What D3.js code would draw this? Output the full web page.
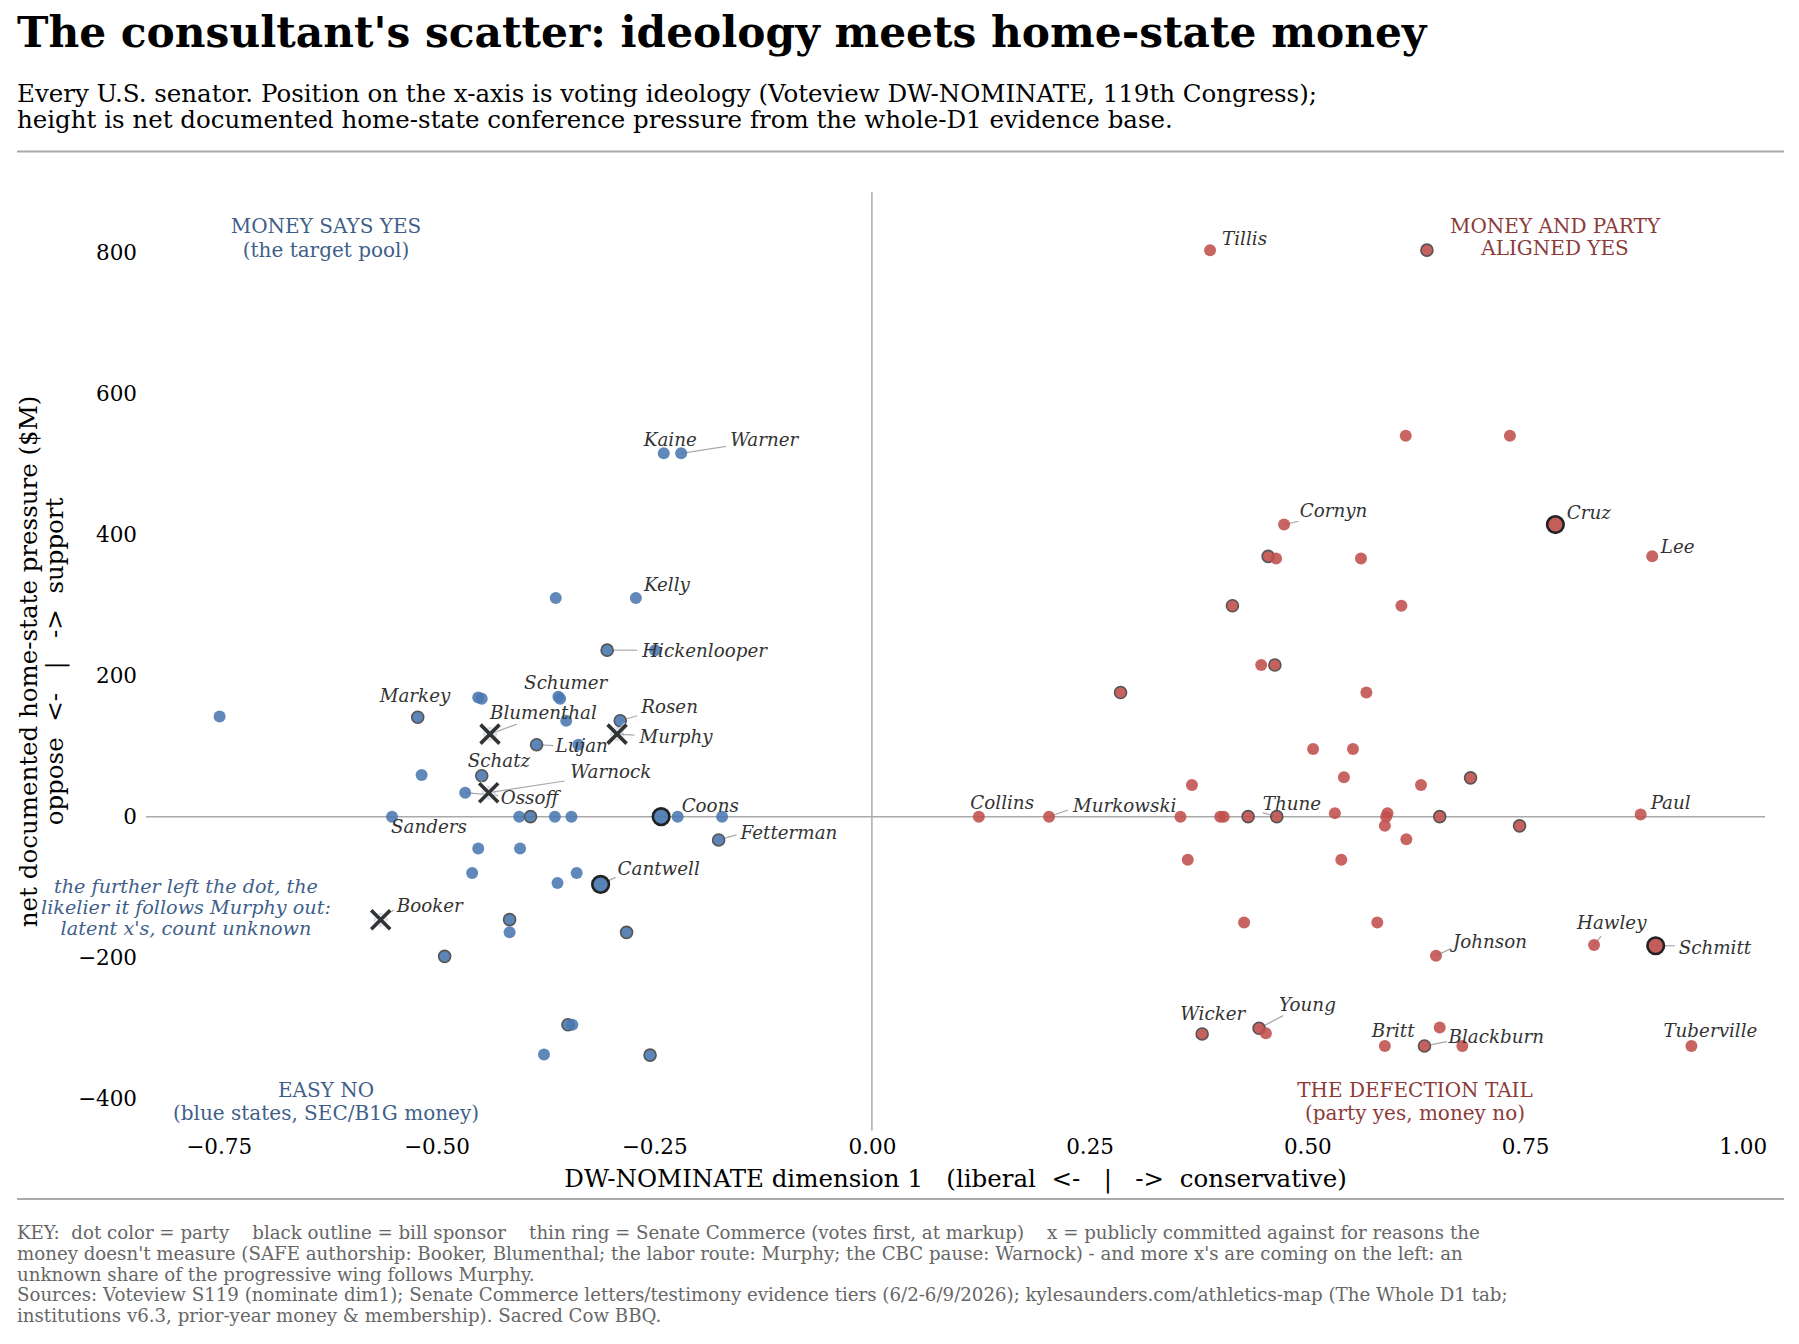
<!DOCTYPE html>
<html>
<head>
<meta charset="utf-8">
<script src="https://cdn.jsdelivr.net/npm/d3@7"></script>
<style>
  html, body { margin: 0; padding: 0; background: #fff; }
  svg { display: block; font-family: "DejaVu Serif", serif; }
</style>
</head>
<body>
<svg id="chart" width="1799" height="1344"></svg>
<script>
// ---------------- DATA ----------------
const senNames = [
  "", "Markey", "", "", "", "Schumer", "", "Rosen", "Lujan", "", "", "Schatz", "Ossoff",
  "Sanders", "", "", "", "", "Coons", "", "", "Fetterman", "", "", "", "", "", "Cantwell",
  "", "", "", "", "", "", "", "", "Kaine", "Warner", "Kelly", "", "Hickenlooper", "",
  "Blumenthal", "Murphy", "Warnock", "Booker",
  "Tillis", "", "", "", "Cornyn", "Cruz", "Lee", "", "", "", "", "", "", "", "", "", "", "",
  "", "", "", "", "Collins", "Murkowski", "", "", "", "", "Thune", "", "", "", "", "", "",
  "Paul", "", "", "", "", "", "Johnson", "Hawley", "Schmitt", "Wicker", "Young", "", "Britt",
  "Blackburn", "", "", "Tuberville"
];
const senNominate = [
  -0.749, -0.5215, -0.452, -0.448, -0.360, -0.358, -0.351, -0.289, -0.385, -0.337, -0.517, -0.448, -0.467,
  -0.551, -0.405, -0.392, -0.364, -0.345, -0.242, -0.223, -0.172, -0.176, -0.452, -0.404, -0.459, -0.339, -0.361, -0.3115,
  -0.416, -0.416, -0.2817, -0.4906, -0.349, -0.344, -0.3765, -0.2547, -0.239, -0.219, -0.271, -0.363, -0.304, -0.249,
  -0.4385, -0.2926, -0.440, -0.564,
  0.3883, 0.6373, 0.613, 0.7326, 0.4733, 0.7848, 0.896, 0.455, 0.4641, 0.5616, 0.414, 0.608, 0.447, 0.4627, 0.2855, 0.5678, 0.5066, 0.5524,
  0.542, 0.6874, 0.3675, 0.6305, 0.1228, 0.2034, 0.3543, 0.400, 0.404, 0.432, 0.4649, 0.5316, 0.592, 0.5905, 0.589, 0.652, 0.7437,
  0.8827, 0.6137, 0.3627, 0.539, 0.4274, 0.5803, 0.6477, 0.8292, 0.900, 0.3792, 0.4446, 0.4524, 0.589,
  0.6345, 0.652, 0.678, 0.941
];
const senPressure = [
  142, 141, 169, 167, 170, 167, 136, 136, 102, 102, 59, 58, 34,
  0, 0, 0, 0, 0, 0, 0, 0, -33, -45, -45, -80, -80, -94, -96,
  -146, -164, -164, -198, -295, -295, -337, -338, 515, 515, 310, 310, 236, 236,
  117, 117, 34, -146,
  803, 803, 540, 540, 414, 414, 369, 369, 366, 366, 299, 299, 215, 215, 176, 176, 96, 96,
  56, 55, 45, 45, 0, 0, 0, 0, 0, 0, 0, 5, 5, 0, -13, 0, -13,
  3, -32, -61, -61, -150, -150, -197, -182, -183, -308, -300, -307, -325,
  -325, -299, -325, -325
];
const senParty = [
  "D","D","D","D","D","D","D","D","D","D","D","D","D",
  "D","D","D","D","D","D","D","D","D","D","D","D","D","D","D",
  "D","D","D","D","D","D","D","D","D","D","D","D","D","D",
  "D","D","D","D",
  "R","R","R","R","R","R","R","R","R","R","R","R","R","R","R","R","R","R",
  "R","R","R","R","R","R","R","R","R","R","R","R","R","R","R","R","R",
  "R","R","R","R","R","R","R","R","R","R","R","R","R",
  "R","R","R","R"
];
// "" = plain, "commerce" = thin ring, "sponsor" = black outline, "x" = publicly committed against
const senRole = [
  "", "commerce", "", "", "", "", "", "commerce", "commerce", "", "", "commerce", "",
  "", "", "commerce", "", "", "sponsor", "", "", "commerce", "", "", "", "", "", "sponsor",
  "commerce", "", "commerce", "commerce", "commerce", "", "", "commerce", "", "", "", "", "commerce", "",
  "x", "x", "x", "x",
  "", "commerce", "", "", "", "sponsor", "", "commerce", "", "", "commerce", "", "", "commerce", "commerce", "", "", "",
  "", "commerce", "", "", "", "", "", "", "", "commerce", "commerce", "", "", "", "", "commerce", "commerce",
  "", "", "", "", "", "", "", "", "sponsor", "commerce", "commerce", "", "",
  "commerce", "", "", ""
];
const xTicks = [-0.75, -0.5, -0.25, 0, 0.25, 0.5, 0.75, 1.0];
const yTicks = [-400, -200, 0, 200, 400, 600, 800];

const titleText = "The consultant's scatter: ideology meets home-state money";
const subtitleLines = [
  "Every U.S. senator. Position on the x-axis is voting ideology (Voteview DW-NOMINATE, 119th Congress);",
  "height is net documented home-state conference pressure from the whole-D1 evidence base."
];
const xLabelText = "DW-NOMINATE dimension 1   (liberal  <-   |   ->  conservative)";
const yLabelLines = ["net documented home-state pressure ($M)", "oppose  <-   |   ->  support"];
const footerLines = [
  "KEY:  dot color = party    black outline = bill sponsor    thin ring = Senate Commerce (votes first, at markup)    x = publicly committed against for reasons the",
  "money doesn't measure (SAFE authorship: Booker, Blumenthal; the labor route: Murphy; the CBC pause: Warnock) - and more x's are coming on the left: an",
  "unknown share of the progressive wing follows Murphy.",
  "Sources: Voteview S119 (nominate dim1); Senate Commerce letters/testimony evidence tiers (6/2-6/9/2026); kylesaunders.com/athletics-map (The Whole D1 tab;",
  "institutions v6.3, prior-year money & membership). Sacred Cow BBQ."
];
const quadBlueTop = ["MONEY SAYS YES", "(the target pool)"];
const quadBlueBottom = ["EASY NO", "(blue states, SEC/B1G money)"];
const quadRedTop = ["MONEY AND PARTY", "ALIGNED YES"];
const quadRedBottom = ["THE DEFECTION TAIL", "(party yes, money no)"];
const noteLines = ["the further left the dot, the", "likelier it follows Murphy out:", "latent x's, count unknown"];

// ---------------- LAYOUT (label offsets in px from the point) ----------------
const labelLayout = {
  Kaine: {dx: -20, dy: -14}, Warner: {dx: 49, dy: -14, lead: [45, -7]},
  Kelly: {dx: 8, dy: -13}, Hickenlooper: {dx: 35, dy: 0, lead: [30, 0]},
  Schumer: {dx: -36, dy: -16}, Markey: {dx: -38, dy: -22},
  Blumenthal: {dx: 0, dy: -21.5, lead: [27, -10]}, Rosen: {dx: 21, dy: -14, lead: [17, -5]},
  Murphy: {dx: 22.5, dy: 2.5, lead: [17.5, 1]}, Lujan: {dx: 19, dy: 1, lead: [17, 1]},
  Schatz: {dx: -14, dy: -15}, Warnock: {dx: 81.6, dy: -20.7, lead: [76, -11.7]},
  Ossoff: {dx: 35.5, dy: 5.3, lead: [33, 3]}, Coons: {dx: 20.5, dy: -10.7},
  Sanders: {dx: -1, dy: 10}, Fetterman: {dx: 22, dy: -7, lead: [18, -5]},
  Cantwell: {dx: 17, dy: -16, lead: [15, -7]}, Booker: {dx: 16, dy: -14, lead: [13, -9.7]},
  Tillis: {dx: 12, dy: -12}, Cornyn: {dx: 15.7, dy: -13.6, lead: [14.5, -3.3]},
  Cruz: {dx: 11.5, dy: -12.3}, Lee: {dx: 8.6, dy: -10},
  Collins: {dx: -8.5, dy: -14}, Murkowski: {dx: 24, dy: -11, lead: [19, -6.7]},
  Thune: {dx: -14, dy: -13.4, lead: [-14, -4]}, Paul: {dx: 10, dy: -11.7},
  Johnson: {dx: 17, dy: -13.7, lead: [15, -7]}, Hawley: {dx: -17, dy: -22.8, lead: [7, -9]},
  Schmitt: {dx: 23, dy: 1.5, lead: [19, 0]}, Wicker: {dx: -22, dy: -20.7},
  Young: {dx: 20, dy: -23.4, lead: [24, -12.7]}, Britt: {dx: -13, dy: -15.7},
  Blackburn: {dx: 24, dy: -9.6, lead: [22.5, -4.3]}, Tuberville: {dx: -28, dy: -15}
};

const C = {
  blue: "#4a78b0", red: "#c0504d", blueText: "#3f5f8a", redText: "#8c3b3b",
  zero: "#aaaaaa", label: "#333333", lead: "#aaaaaa", footer: "#666666"
};

// ---------------- DRAW ----------------
const svg = d3.select("#chart");
const font = "DejaVu Serif";

const x = d3.scaleLinear().domain([-0.8335, 1.0255]).range([146, 1765]);
const y = d3.scaleLinear().domain([-445, 885]).range([1130.6, 192.3]);

// Title / subtitle
svg.append("text").attr("x", 17).attr("y", 47).attr("font-size", 42.3).attr("font-weight", "bold")
  .attr("fill", "#000").text(titleText);
subtitleLines.forEach((t, i) => {
  svg.append("text").attr("x", 17).attr("y", 101.7 + i * 26.3).attr("font-size", 24.5)
    .attr("fill", "#000").text(t);
});
svg.append("line").attr("x1", 17).attr("x2", 1784).attr("y1", 151.5).attr("y2", 151.5)
  .attr("stroke", "#aaa").attr("stroke-width", 2);
svg.append("line").attr("x1", 17).attr("x2", 1784).attr("y1", 1199).attr("y2", 1199)
  .attr("stroke", "#aaa").attr("stroke-width", 2);

// zero lines
const [x0, x1] = x.range();
const [yb, yt] = y.range();
svg.append("line").attr("x1", x0).attr("x2", x1).attr("y1", y(0)).attr("y2", y(0))
  .attr("stroke", C.zero).attr("stroke-width", 1.5);
svg.append("line").attr("x1", x(0)).attr("x2", x(0)).attr("y1", yt).attr("y2", yb)
  .attr("stroke", C.zero).attr("stroke-width", 1.5);

// axes (tick labels only)
const fmtX = v => d3.format(".2f")(v).replace("-", "\u2212");
const fmtY = v => String(v).replace("-", "\u2212");
const gx = svg.append("g").attr("transform", `translate(0,${1131})`)
  .call(d3.axisBottom(x).tickValues(xTicks).tickFormat(fmtX).tickSize(0).tickPadding(8));
const gy = svg.append("g").attr("transform", `translate(${146},0)`)
  .call(d3.axisLeft(y).tickValues(yTicks).tickFormat(fmtY).tickSize(0).tickPadding(9));
[gx, gy].forEach(g => {
  g.select(".domain").remove();
  g.selectAll("text").attr("font-family", font).attr("font-size", 21.5).attr("fill", "#000");
});

// axis labels
svg.append("text").attr("x", (x0 + x1) / 2).attr("y", 1187).attr("text-anchor", "middle")
  .attr("font-size", 24.5).style("white-space", "pre").text(xLabelText);
yLabelLines.forEach((t, i) => {
  const cx = i === 0 ? 37 : 63;
  svg.append("text").attr("transform", `translate(${cx},${(yt + yb) / 2}) rotate(-90)`)
    .attr("text-anchor", "middle").attr("font-size", 24.5).style("white-space", "pre").text(t);
});

// quadrant labels
function block(lines, cx, cy0, color, size, italic, gap) {
  lines.forEach((t, i) => {
    svg.append("text").attr("x", cx).attr("y", cy0 + i * gap).attr("text-anchor", "middle")
      .attr("font-size", size).attr("fill", color).attr("font-style", italic ? "italic" : "normal")
      .text(t);
  });
}
block(quadBlueTop, 326, 233, C.blueText, 20, false, 23.5);
block(quadBlueBottom, 326, 1097, C.blueText, 20, false, 23);
block(quadRedTop, 1555, 233, C.redText, 20, false, 22);
block(quadRedBottom, 1415, 1097, C.redText, 20, false, 23);
block(noteLines, 186, 893, C.blueText, 19.2, true, 20.8);

// data rows
const rows = senNames.map((n, i) => ({
  name: n, nom: senNominate[i], p: senPressure[i], party: senParty[i], role: senRole[i]
}));

// leader lines
const gLead = svg.append("g");
rows.filter(d => d.name && labelLayout[d.name] && labelLayout[d.name].lead).forEach(d => {
  const L = labelLayout[d.name].lead;
  gLead.append("line").attr("x1", x(d.nom) + L[0]).attr("y1", y(d.p) + L[1])
    .attr("x2", x(d.nom)).attr("y2", y(d.p)).attr("stroke", C.lead).attr("stroke-width", 1.2);
});

// dots
const gDots = svg.append("g");
rows.forEach(d => {
  const fill = d.party === "D" ? C.blue : C.red;
  const cx = x(d.nom), cy = y(d.p);
  if (d.role === "x") {
    gDots.append("circle").attr("cx", cx).attr("cy", cy).attr("r", 7)
      .attr("fill", fill).attr("fill-opacity", 0.25);
    const s = 9.5;
    const path = `M${cx - s},${cy - s}L${cx + s},${cy + s}M${cx - s},${cy + s}L${cx + s},${cy - s}`;
    gDots.append("path").attr("d", path).attr("stroke", "#fff").attr("stroke-width", 6).attr("opacity", 0.6);
    gDots.append("path").attr("d", path).attr("stroke", "#333").attr("stroke-width", 3.6);
  } else if (d.role === "sponsor") {
    gDots.append("circle").attr("cx", cx).attr("cy", cy).attr("r", 8.3)
      .attr("fill", fill).attr("fill-opacity", 0.92).attr("stroke", "#222").attr("stroke-width", 2.6);
  } else if (d.role === "commerce") {
    gDots.append("circle").attr("cx", cx).attr("cy", cy).attr("r", 6)
      .attr("fill", fill).attr("fill-opacity", 0.9).attr("stroke", "#555").attr("stroke-width", 1.6);
  } else {
    gDots.append("circle").attr("cx", cx).attr("cy", cy).attr("r", 6)
      .attr("fill", fill).attr("fill-opacity", 0.88);
  }
});

// point labels
const gLab = svg.append("g");
rows.filter(d => d.name && labelLayout[d.name]).forEach(d => {
  const o = labelLayout[d.name];
  gLab.append("text").attr("x", x(d.nom) + o.dx).attr("y", y(d.p) + o.dy).attr("dy", "0.35em")
    .attr("font-size", 18.3).attr("font-style", "italic").attr("fill", C.label).text(d.name);
});

// footer
footerLines.forEach((t, i) => {
  svg.append("text").attr("x", 17).attr("y", 1239 + i * 20.8).attr("font-size", 18.2)
    .attr("fill", C.footer).style("white-space", "pre").text(t);
});
</script>
</body>
</html>
